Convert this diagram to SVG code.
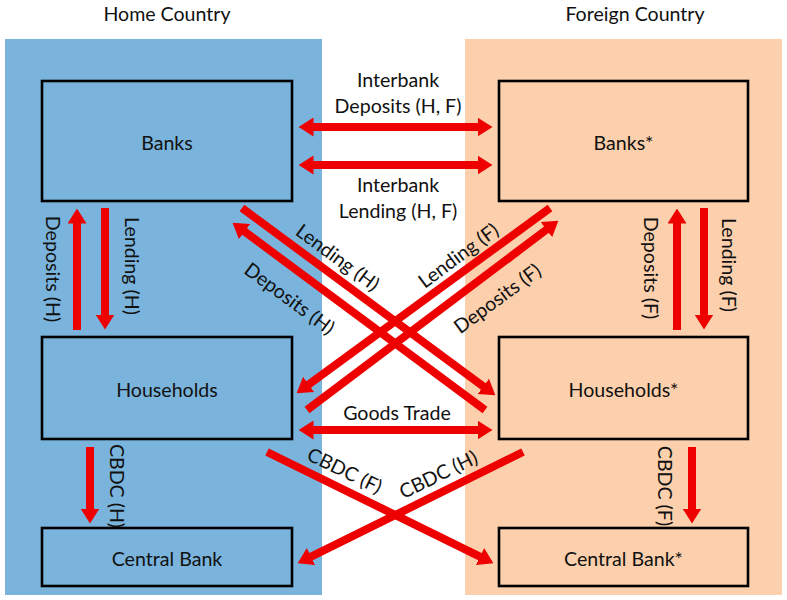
<svg xmlns="http://www.w3.org/2000/svg" width="787" height="600" viewBox="0 0 787 600">
<style>
  text { font-family: Lato, "Liberation Sans", sans-serif; font-size: 19.6px; fill: #111; }
  .c { text-anchor: middle; }
  .m { text-anchor: middle; dominant-baseline: central; }
  .box { fill: none; stroke: #000; stroke-width: 2.6; }
  .arr { fill: none; stroke: #ee0000; stroke-width: 8; marker-end: url(#head); }
  .dbl { marker-start: url(#headS); }
</style>
<defs>
  <marker id="head" markerUnits="userSpaceOnUse" markerWidth="15" markerHeight="19" viewBox="0 0 15 19" refX="0.5" refY="9.5" orient="auto">
    <path d="M0,0 L15,9.5 L0,19 z" fill="#ee0000"/>
  </marker>
  <marker id="headS" markerUnits="userSpaceOnUse" markerWidth="15" markerHeight="19" viewBox="0 0 15 19" refX="0.5" refY="9.5" orient="auto-start-reverse">
    <path d="M0,0 L15,9.5 L0,19 z" fill="#ee0000"/>
  </marker>
</defs>

<g id="regions">
  <rect x="5" y="39" width="317" height="556" fill="#7ab4dc"/>
  <rect x="465" y="39" width="317" height="556" fill="#fdd0ad"/>
  <text class="c" x="167" y="21">Home Country</text>
  <text class="c" x="635" y="21">Foreign Country</text>
</g>

<g id="banks"><rect class="box" x="42" y="81" width="250" height="120"/><text class="c" x="167" y="150">Banks</text></g>
<g id="banks-f"><rect class="box" x="499" y="81" width="249" height="120"/><text class="c" x="623.5" y="150">Banks*</text></g>
<g id="households"><rect class="box" x="42" y="337" width="250" height="102"/><text class="c" x="167" y="397">Households</text></g>
<g id="households-f"><rect class="box" x="499" y="337" width="249" height="102"/><text class="c" x="623.5" y="397">Households*</text></g>
<g id="central-bank"><rect class="box" x="42" y="528" width="250" height="58"/><text class="c" x="167" y="566">Central Bank</text></g>
<g id="central-bank-f"><rect class="box" x="499" y="528" width="249" height="58"/><text class="c" x="623.5" y="566">Central Bank*</text></g>

<g id="connectors">
  <path class="arr dbl" d="M313,127 H478"/>
  <path class="arr dbl" d="M313,165 H478"/>
  <path class="arr dbl" d="M313,430 H478"/>
  <path class="arr" d="M77,330 V223"/>
  <path class="arr" d="M105,208 V315"/>
  <path class="arr" d="M677,330 V223"/>
  <path class="arr" d="M704,208 V315"/>
  <path class="arr" d="M90,447 V509"/>
  <path class="arr" d="M692,447 V509"/>
  <path class="arr" d="M242,208 L483.7,386.7"/>
  <path class="arr" d="M485,410 L244.2,231.3"/>
  <path class="arr" d="M550,208 L308.3,384.7"/>
  <path class="arr" d="M307,410 L546.8,229.4"/>
  <path class="arr" d="M267,452 L480.4,556.8"/>
  <path class="arr" d="M523,452 L310.6,556.8"/>
</g>

<g id="labels">
  <text class="c" x="398" y="87">Interbank</text>
  <text class="c" x="398" y="113">Deposits (H, F)</text>
  <text class="c" x="398" y="192">Interbank</text>
  <text class="c" x="398" y="218">Lending (H, F)</text>
  <text class="c" x="397" y="420">Goods Trade</text>
  <text class="m" transform="translate(53,269) rotate(90)">Deposits (H)</text>
  <text class="m" transform="translate(132,266) rotate(90)">Lending (H)</text>
  <text class="m" transform="translate(651,268) rotate(90)">Deposits (F)</text>
  <text class="m" transform="translate(729,265) rotate(90)">Lending (F)</text>
  <text class="m" transform="translate(117,486) rotate(90)">CBDC (H)</text>
  <text class="m" transform="translate(665,486) rotate(90)">CBDC (F)</text>
  <text class="m" transform="translate(338,257) rotate(36.5)">Lending (H)</text>
  <text class="m" transform="translate(290,298) rotate(36.5)">Deposits (H)</text>
  <text class="m" transform="translate(458,255) rotate(-36.5)">Lending (F)</text>
  <text class="m" transform="translate(497,298) rotate(-36.5)">Deposits (F)</text>
  <text class="m" transform="translate(345,470) rotate(26)">CBDC (F)</text>
  <text class="m" transform="translate(438,474) rotate(-26)">CBDC (H)</text>
</g>
</svg>
